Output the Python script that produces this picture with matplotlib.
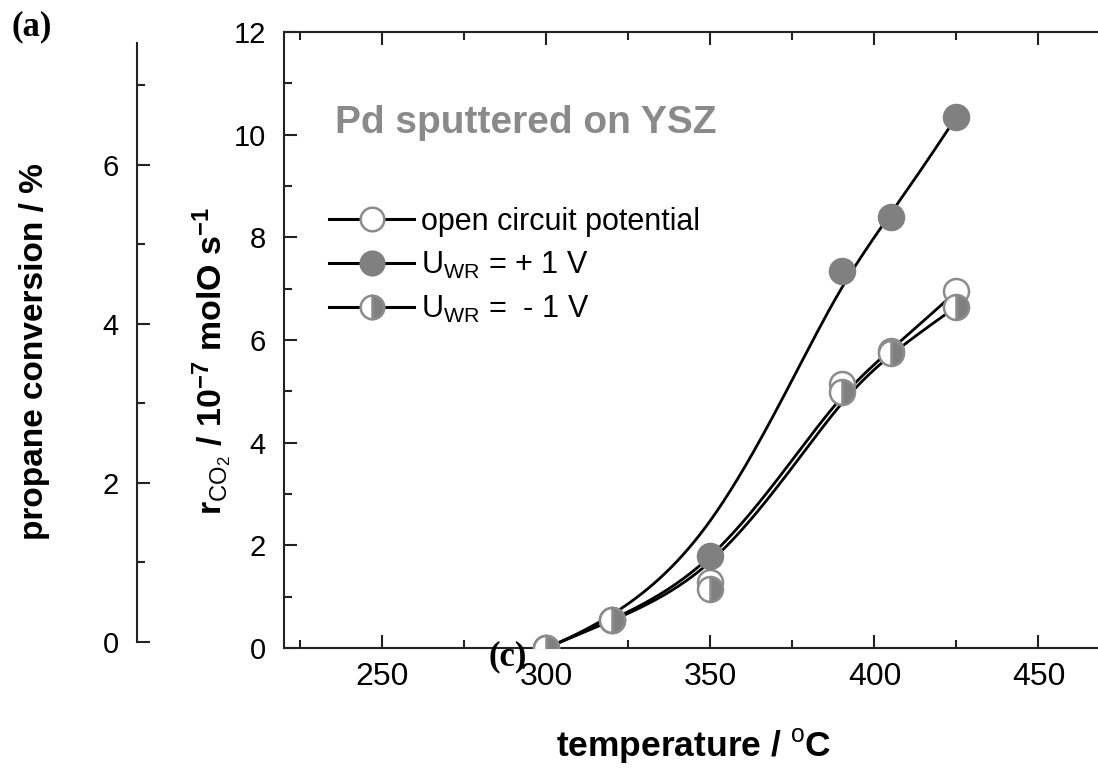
import numpy as np
import matplotlib
matplotlib.use("Agg")
import matplotlib.pyplot as plt
from matplotlib.ticker import MultipleLocator

# data
temperature = [300, 320, 350, 390, 405, 425]
r_ocp = [0.0, 0.55, 1.28, 5.15, 5.78, 6.95]
r_plus = [0.0, 0.55, 1.80, 7.35, 8.40, 10.35]
r_minus = [0.0, 0.55, 1.15, 4.98, 5.75, 6.65]

x_ticks = [250, 300, 350, 400, 450]
y_ticks = [0, 2, 4, 6, 8, 10, 12]
conv_ticks = [0, 2, 4, 6]

plt.rcParams['font.family'] = ['Liberation Sans', 'DejaVu Sans']
plt.rcParams['mathtext.fontset'] = 'custom'
plt.rcParams['mathtext.rm'] = 'Liberation Sans'
plt.rcParams['mathtext.bf'] = 'Liberation Sans:bold'
plt.rcParams['mathtext.it'] = 'Liberation Sans:italic'

GRAY = '#808080'
EDGE = '#8c8c8c'
AX = '#222222'


def bspline(px, py, k=3, n=300):
    # clamped B-spline with the data points as control points (Origin style line)
    px = np.asarray(px, float)
    py = np.asarray(py, float)
    m = len(px)
    knots = np.concatenate([np.zeros(k), np.linspace(0, 1, m - k + 1), np.ones(k)])
    u = np.linspace(0, 1, n)
    u[-1] -= 1e-9
    N = np.array([((knots[i] <= u) & (u < knots[i + 1])).astype(float)
                  for i in range(len(knots) - 1)])
    for p in range(1, k + 1):
        rows = []
        for i in range(len(knots) - 1 - p):
            d1 = knots[i + p] - knots[i]
            d2 = knots[i + p + 1] - knots[i + 1]
            row = np.zeros_like(u)
            if d1 > 0:
                row += (u - knots[i]) / d1 * N[i]
            if d2 > 0:
                row += (knots[i + p + 1] - u) / d2 * N[i + 1]
            rows.append(row)
        N = np.array(rows)
    return N.T @ px, N.T @ py


fig = plt.figure(figsize=(10.98, 7.68), dpi=100)

ax = fig.add_axes([0.2587, 0.15625, 0.7468, 0.802])
ax.set_xlim(220, 470)
ax.set_ylim(0, 12)

series = [
    (r_ocp, dict(marker='o', mfc='white', mec=EDGE), 'open circuit potential'),
    (r_plus, dict(marker='o', mfc=GRAY, mec=GRAY), r'U$_{\mathrm{WR}}$ = + 1 V'),
    (r_minus, dict(marker='o', mfc=GRAY, mfcalt='white', mec=EDGE, fillstyle='right'),
     r'U$_{\mathrm{WR}}$ =  - 1 V'),
]
handles = []
for vals, mstyle, label in series:
    cx, cy = bspline(temperature, vals)
    ax.plot(cx, cy, color='black', lw=2.0, zorder=2)
    ax.plot(temperature, vals, ls='none', ms=18, mew=1.8, zorder=3, **mstyle)
    h, = ax.plot([], [], color='black', lw=2.2, ms=17, mew=1.8, label=label, **mstyle)
    handles.append(h)

ax.legend(handles=handles, loc='upper left', bbox_to_anchor=(0.055, 0.716),
          frameon=False, fontsize=22, handlelength=2.78, handletextpad=0.23,
          labelspacing=0.42, borderpad=0, borderaxespad=0)

ax.text(0.062, 0.836, 'Pd sputtered on YSZ', transform=ax.transAxes, fontsize=28,
        fontweight='bold', color='#8a8a8a', ha='left', va='baseline')

ax.xaxis.set_minor_locator(MultipleLocator(25))
ax.set_xticks(x_ticks)
ax.set_yticks(y_ticks)
ax.yaxis.set_minor_locator(MultipleLocator(1))
ax.tick_params(axis='both', which='both', direction='in', color=AX, width=1.5)
ax.tick_params(which='major', length=9.5)
ax.tick_params(which='minor', length=5.5)
ax.tick_params(axis='x', which='both', top=True, bottom=True, labelsize=23, pad=10)
ax.tick_params(axis='y', which='both', right=False, labelsize=21, pad=13)
ax.spines['right'].set_visible(False)
for s in ['left', 'bottom', 'top']:
    ax.spines[s].set_color(AX)
    ax.spines[s].set_linewidth(1.5)

ax.set_xlabel(r'temperature / $^{\mathrm{o}}$C', fontsize=25.5, fontweight='bold')
ax.xaxis.set_label_coords(0.5, -0.128)

fig.text(212 / 1098, 1 - 361 / 768,
         r'$\mathbf{r}_{\mathrm{CO}_2}$ / 10$^{\mathbf{-7}}$ molO s$^{\mathbf{-1}}$',
         rotation=90, fontsize=24.5, fontweight='bold', ha='center', va='center')

# propane conversion axis on the far left
ax2 = fig.add_axes([0.1248, 0.164, 0.01, 0.78])
ax2.set_ylim(0, 7.53)
ax2.set_yticks(conv_ticks)
ax2.yaxis.set_minor_locator(MultipleLocator(1))
ax2.set_xticks([])
for s in ['right', 'top', 'bottom']:
    ax2.spines[s].set_visible(False)
ax2.spines['left'].set_color(AX)
ax2.spines['left'].set_linewidth(1.5)
ax2.patch.set_visible(False)
ax2.tick_params(axis='y', which='both', direction='in', color=AX, width=1.5,
                labelsize=21, pad=13)
ax2.tick_params(which='major', length=9.5)
ax2.tick_params(which='minor', length=5.5)

fig.text(35 / 1098, 1 - 352 / 768, 'propane conversion / %', rotation=90,
         fontsize=24, fontweight='bold', ha='center', va='center')

fig.text(32 / 1098, 1 - 27 / 768, '(a)', fontsize=25, fontweight='bold',
         family='Liberation Serif', ha='center', va='center')
fig.text(508 / 1098, 1 - 657 / 768, '(c)', fontsize=25, fontweight='bold',
         family='Liberation Serif', ha='center', va='center')

fig.savefig('out.png', dpi=100)
plt.close(fig)
